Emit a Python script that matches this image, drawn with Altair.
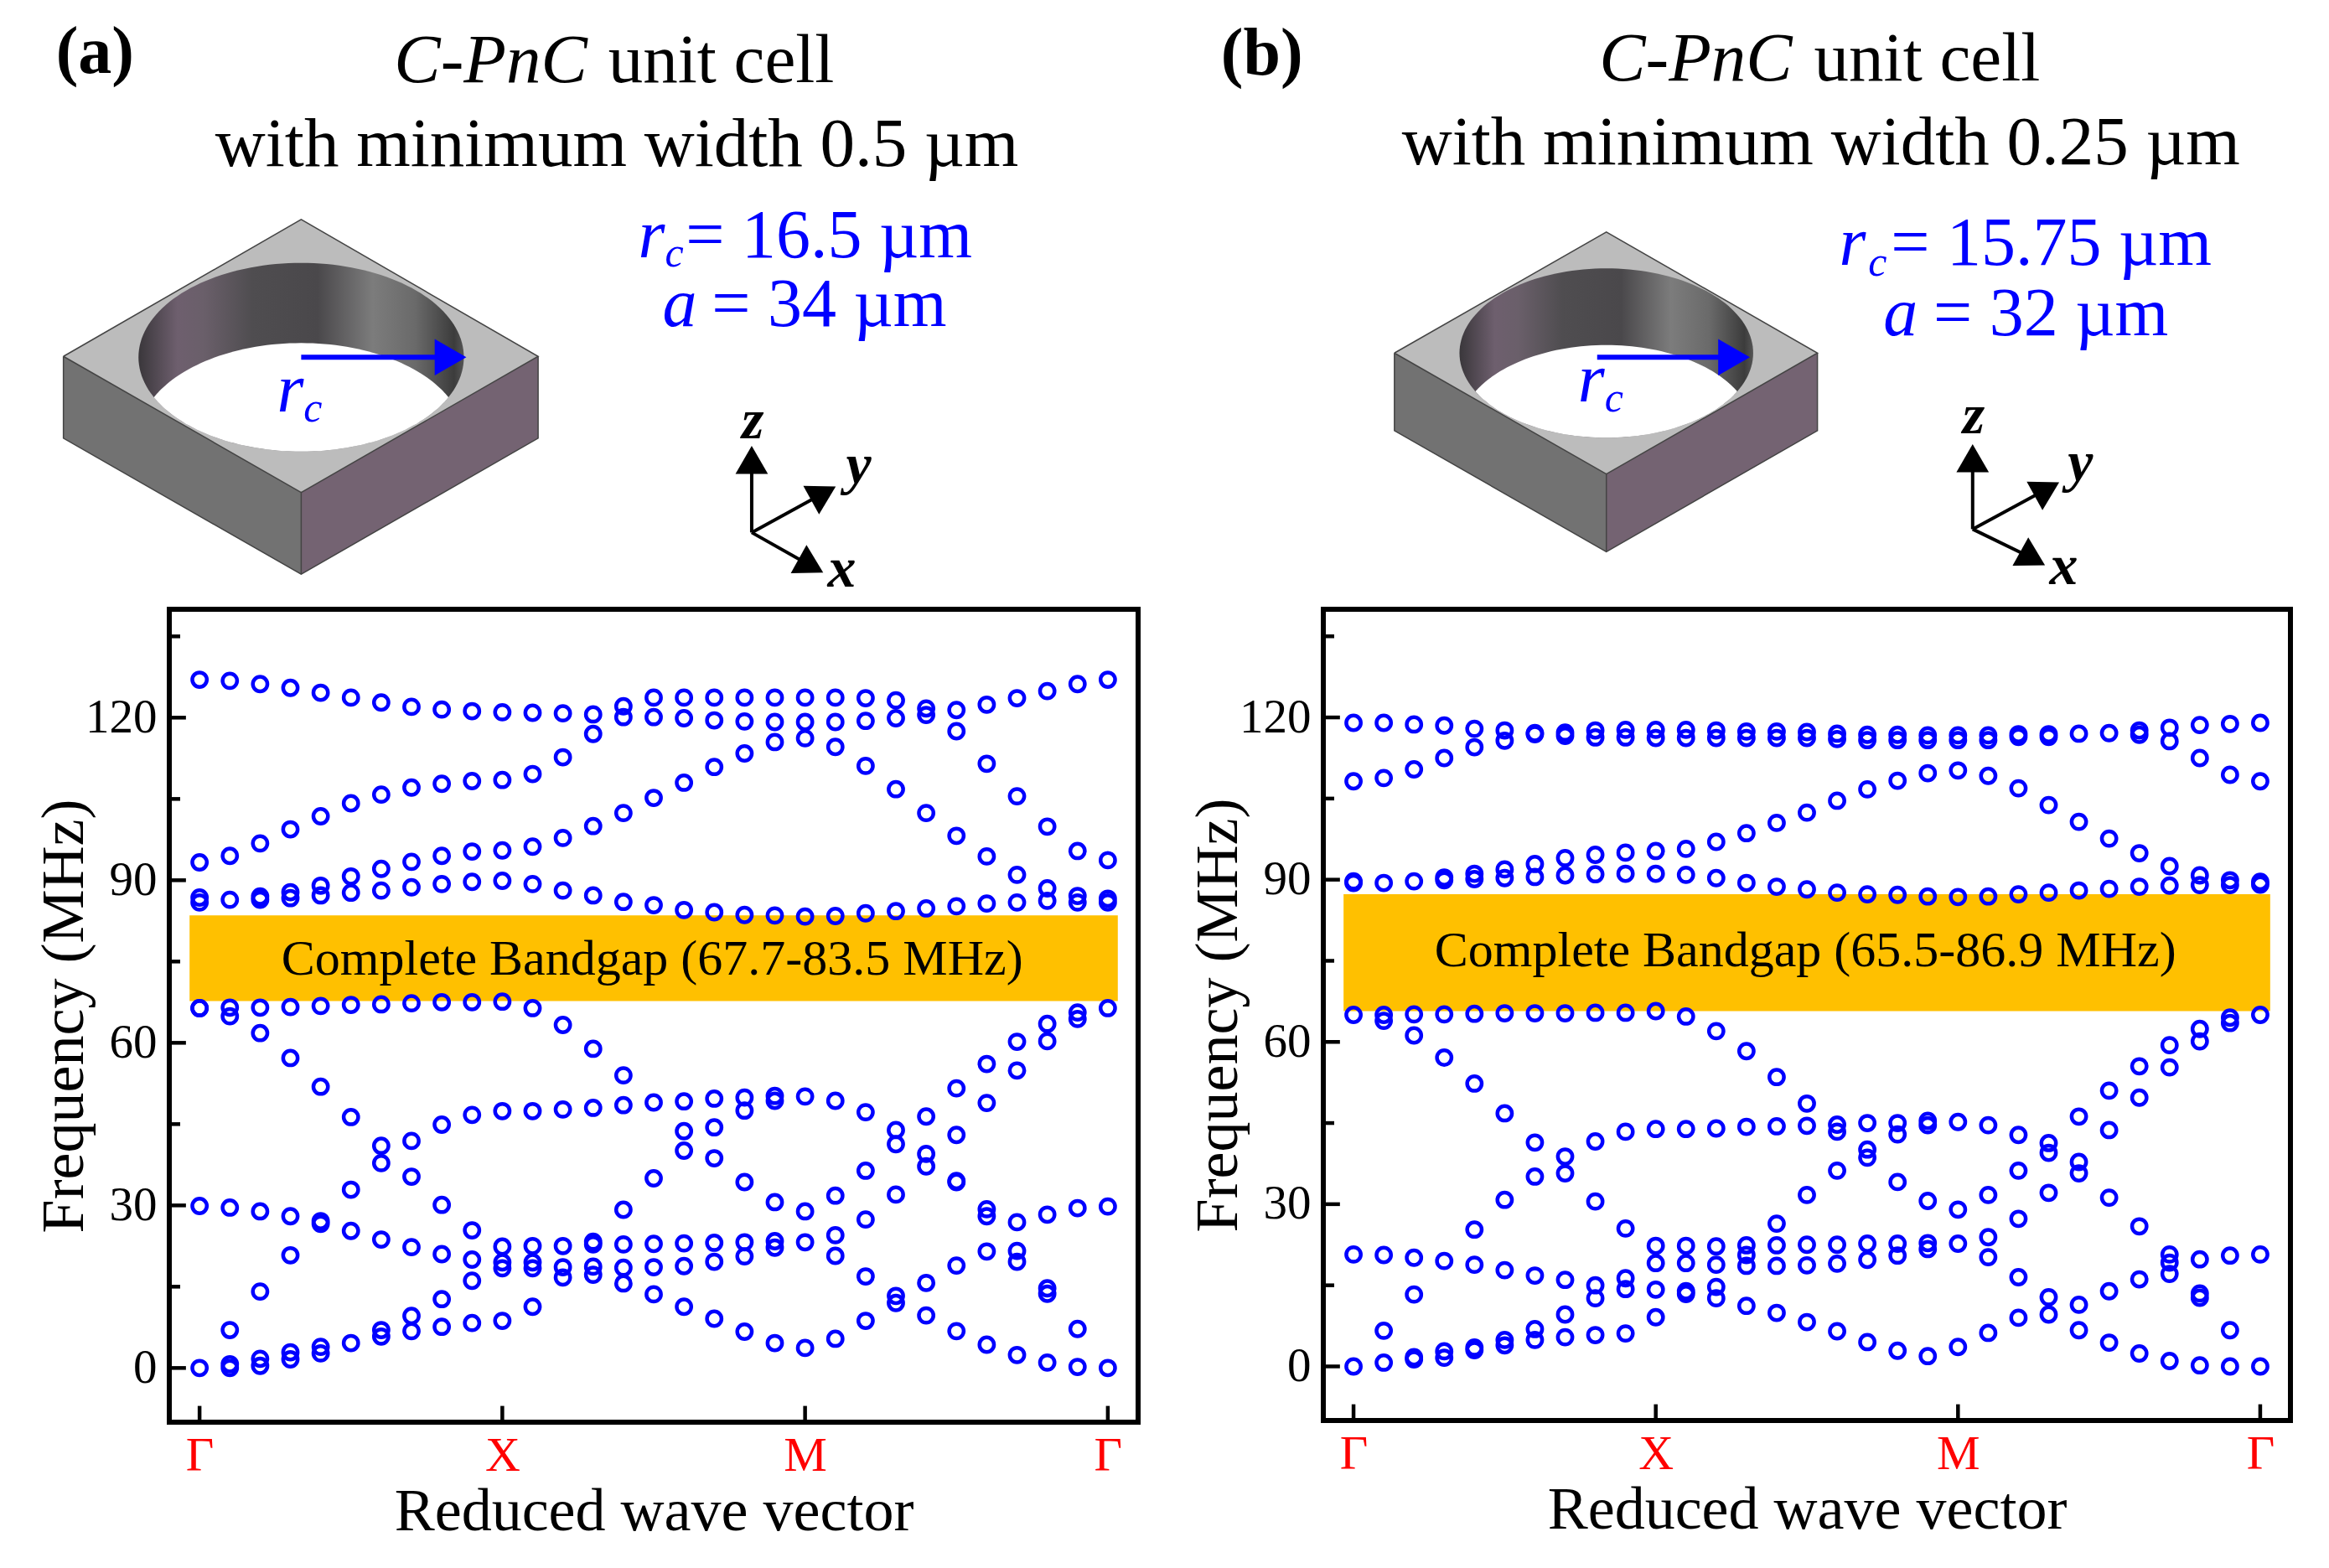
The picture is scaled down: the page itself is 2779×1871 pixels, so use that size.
import numpy as np
import pandas as pd
import altair as alt

FONT = "Liberation Serif"
BLUE = "#0000ff"

# Frequencies (MHz) at each of the 31 wave vector samples
a_columns = [
 [0,29.9,66.4,66.4,85.9,86.8,93.3,127.0],
 [0,0.7,7,29.6,64.9,66.5,86.4,94.5,126.8],
 [0.4,1.7,14.1,28.9,61.8,66.5,86.4,87,96.8,126.2],
 [1.6,2.9,20.8,28,57.2,66.6,86.7,87.8,99.4,125.5],
 [2.7,3.9,26.6,27.1,51.9,66.8,87.2,89,101.8,124.6],
 [4.6,25.3,32.9,46.3,67,87.7,90.7,104.2,123.7],
 [5.8,7,23.7,37.8,41,67.1,88.1,92.1,105.8,122.8],
 [6.8,9.6,22.3,35.3,41.9,67.3,88.7,93.4,107.1,122],
 [7.6,12.7,21,30.1,44.9,67.5,89.3,94.5,107.8,121.5],
 [8.3,16.1,20,25.4,46.7,67.5,89.7,95.3,108.3,121.2],
 [8.7,18.4,19.5,22.4,47.4,67.6,89.9,95.5,108.5,121],
 [11.3,18.4,19.5,22.5,47.4,66.4,89.3,96.2,109.6,120.9],
 [16.7,18.6,22.5,47.7,63.3,88.1,97.8,112.7,120.8],
 [17.2,18.7,22.8,23.3,48,58.9,87.2,100,117,120.6],
 [15.6,18.5,22.8,29.2,48.5,54,86,102.4,120.1,122.1],
 [13.6,18.6,22.9,35,49,85.4,105.2,120.1,123.7],
 [11.3,18.8,23,40.1,43.7,49.2,84.5,108,119.9,123.7],
 [9.1,19.6,23.1,38.7,44.4,49.7,84.1,110.9,119.5,123.7],
 [6.7,20.6,23.2,34.3,47.5,49.9,83.6,113.4,119.3,123.7],
 [4.6,22.2,23.4,30.6,49.3,50.2,83.5,115.5,119.2,123.7],
 [3.7,23.2,28.9,50.1,83.3,116.2,119.2,123.7],
 [5.4,20.7,24.5,31.8,49.3,83.4,114.6,119.2,123.7],
 [8.7,16.9,27.4,36.4,47.2,83.9,111.1,119.4,123.6],
 [12,13.3,32,41.3,43.9,84.3,106.8,119.9,123.2],
 [9.7,15.7,37.2,39.5,46.4,84.8,102.4,120.5,121.7],
 [6.8,18.9,34.3,34.5,43,51.6,85.2,98.2,117.5,121.4],
 [4.3,21.5,28,29.3,48.9,56.1,85.7,94.4,111.5,122.4],
 [2.4,19.6,21.6,26.9,54.9,60.2,85.9,91,105.5,123.6],
 [1,13.7,14.7,28.3,60.3,63.5,86.2,88.5,99.9,124.9],
 [0.2,7.2,29.5,64.4,65.6,85.9,87.1,95.4,126.2],
 [0,29.8,66.4,85.9,86.6,93.7,127],
]
b_columns = [
 [0,20.7,65,89.4,89.7,108.2,119],
 [0.7,6.6,20.6,63.9,65,89.4,108.8,119],
 [1.3,1.7,13.3,20.1,61.2,65.1,89.7,110.4,118.7],
 [1.6,2.8,19.5,57.1,65.1,89.9,90.4,112.5,118.5],
 [3,3.5,18.8,25.3,52.3,65.2,90.1,91.1,114.5,117.9],
 [3.9,4.9,17.8,30.8,46.8,65.3,90.3,91.9,115.7,117.6],
 [4.9,6.9,16.8,35.1,41.4,65.3,90.5,92.9,116.9,117.1],
 [5.4,9.6,16,35.7,38.8,65.3,90.8,94,116.6,117.2],
 [5.8,12.6,15,30.5,41.6,65.4,91,94.6,116.3,117.6],
 [6.1,14.3,16.3,25.5,43.4,65.4,91.1,95,116.3,117.7],
 [9.1,14.2,19.1,22.3,43.9,65.7,91.1,95.3,116.2,117.7],
 [13.4,13.9,19.1,22.3,43.9,64.7,90.9,95.7,116.2,117.7],
 [12.6,14.7,18.8,22.2,44,62,90.3,97,116.2,117.6],
 [11.2,18.6,20.6,22.4,44.3,58.3,89.4,98.6,116.2,117.4],
 [9.9,18.6,22.4,26.4,44.4,53.5,88.7,100.5,116.2,117.4],
 [8.2,18.7,22.5,31.7,44.5,48.6,88.2,102.4,116.2,117.3],
 [6.5,19,22.5,36.2,43.4,44.7,87.6,104.6,116,117],
 [4.5,19.7,22.7,38.6,40.1,45,87.3,106.7,115.8,116.8],
 [2.9,20.5,22.7,34.1,42.9,45,87.2,108.3,115.8,116.8],
 [1.9,21.7,22.8,30.6,44.6,45.4,86.9,109.7,115.8,116.7],
 [3.6,22.7,29,45.2,86.8,110.2,115.8,116.7],
 [6.2,20.2,23.9,31.7,44.6,86.9,109.2,115.8,116.7],
 [9,16.5,27.3,36.2,42.8,87.3,106.9,116.4,116.9],
 [9.6,12.8,32.1,39.5,41.3,87.6,103.8,116.4,116.9],
 [6.7,11.4,35.7,37.8,46.2,88,100.7,117],
 [4.4,13.9,31.2,43.7,51,88.3,97.6,117.1],
 [2.4,16.1,25.9,49.7,55.5,88.7,94.9,116.8,117.6],
 [1,17.1,19.2,20.7,55.3,59.4,88.9,92.5,115.6,118.1],
 [0.2,12.7,13.5,19.8,60.1,62.4,89,90.8,112.5,118.6],
 [0,6.7,20.5,63.5,64.5,89,89.9,109.4,118.8],
 [0,20.7,65,89.1,89.6,108.2,119],
]

y_major = [0, 30, 60, 90, 120]
y_minor = [15, 45, 75, 105, 135]
x_ticks = [0, 10, 20, 30]

# Schematic coordinates are in the "sketch" units below; sx/sy/ox map them onto the picture
A = dict(
    frame=(202, 1358, 728, 1698), ox=0, sx=0.9955, sy=0.9959,
    gap=(67.7, 83.5), gap_text="Complete Bandgap (67.7-83.5 MHz)", gap_pos=(14.95, 75.3),
    columns=a_columns,
    box=dict(top=(361, 264), left=(76, 428), right=(645, 428), front=(361, 591), depth=98),
    hole=dict(cx=361, cy=429, rx=195, ry=113, d=96),
    arrow=((361, 429), (540, 429)),
    axes=dict(o=(901, 639), z=(901, 552), y=(987, 592), x=(972, 679)),
    title=[("(a)", 67, 88, 80, "bold", "normal", "left"),
           ("C-PnC", 704, 99, 83, "normal", "italic", "right"),
           ("unit cell", 729, 99, 83, "normal", "normal", "left"),
           ("with minimum width 0.5 µm", 258, 200, 83, "normal", "normal", "left")],
    blue=[("r", 765, 309, 82, "italic"), ("c", 797, 320, 50, "italic"), ("= 16.5 µm", 822, 309, 82, "normal"),
          ("a", 794, 392, 82, "italic"), ("= 34 µm", 853, 392, 82, "normal"),
          ("r", 332, 494, 82, "italic"), ("c", 364, 506, 50, "italic")],
    xyz=[("z", 889, 526), ("y", 1014, 580), ("x", 992, 704)],
)
B = dict(
    frame=(1579, 2733, 726, 1694), ox=1400, sx=0.9956, sy=0.9959,
    gap=(65.7, 87.3), gap_text="Complete Bandgap (65.5-86.9 MHz)", gap_pos=(14.95, 76.7),
    columns=b_columns,
    box=dict(top=(1919, 277), left=(1665, 422), right=(2172, 422), front=(1919, 567), depth=93),
    hole=dict(cx=1919, cy=422, rx=176, ry=101.5, d=92),
    arrow=((1908, 427), (2072, 427)),
    axes=dict(o=(2358, 633), z=(2358, 548), y=(2447, 585), x=(2430, 668)),
    title=[("(b)", 1457, 88, 80, "bold", "normal", "left"),
           ("C-PnC", 2142, 95, 83, "normal", "italic", "right"),
           ("unit cell", 2168, 95, 83, "normal", "normal", "left"),
           ("with minimum width 0.25 µm", 1674, 196, 83, "normal", "normal", "left")],
    blue=[("r", 2198, 316, 82, "italic"), ("c", 2233, 329, 50, "italic"), ("= 15.75 µm", 2260, 316, 82, "normal"),
          ("a", 2251, 401, 82, "italic"), ("= 32 µm", 2311, 401, 82, "normal"),
          ("r", 1885, 480, 82, "italic"), ("c", 1917, 492, 50, "italic")],
    xyz=[("z", 2346, 518), ("y", 2472, 575), ("x", 2450, 699)],
)


def panel(p):
    L, R, T, Bm = p["frame"]
    w, h = R - L, Bm - T
    xs = alt.Scale(domain=[-1, 31], nice=False, zero=False)
    ys = alt.Scale(domain=[-10, 140], nice=False, zero=False)
    xenc = alt.X("k:Q", scale=xs, axis=alt.Axis(
        values=x_ticks, grid=False, domain=False, ticks=False, title="Reduced wave vector",
        labelExpr="datum.value == 10 ? 'X' : datum.value == 20 ? 'M' : 'Γ'",
        labelColor="#ff0000", labelFont=FONT, labelFontSize=58, labelPadding=11,
        titleFont=FONT, titleFontSize=72, titleFontWeight="normal", titleColor="black", titlePadding=2))
    yenc = alt.Y("f:Q", scale=ys, axis=alt.Axis(
        values=y_major, grid=False, domain=False, ticks=False, title="Frequency (MHz)",
        labelFont=FONT, labelFontSize=57, labelPadding=15, labelColor="black",
        titleFont=FONT, titleFontSize=72, titleFontWeight="normal", titleColor="black", titlePadding=-12))

    rows = [{"k": i, "f": v} for i, col in enumerate(p["columns"]) for v in col]
    pts = alt.Chart(pd.DataFrame(rows)).mark_point(
        shape="circle", filled=False, color=BLUE, size=300, strokeWidth=4.5, opacity=1
    ).encode(x=xenc, y=yenc)

    band = alt.Chart(pd.DataFrame({"k": [-0.33], "k2": [30.33], "f": [p["gap"][0]], "f2": [p["gap"][1]]})).mark_rect(
        color="#ffc000", opacity=1).encode(x=xenc, x2="k2:Q", y=yenc, y2="f2:Q")
    bt = alt.Chart(pd.DataFrame({"k": [p["gap_pos"][0]], "f": [p["gap_pos"][1]], "t": [p["gap_text"]]})).mark_text(
        font=FONT, fontSize=60, color="black", baseline="middle", align="center").encode(x=xenc, y=yenc, text="t:N")

    ytick = alt.Chart(pd.DataFrame(
        [{"k": -1, "k2": -0.45, "f": v} for v in y_major] + [{"k": -1, "k2": -0.64, "f": v} for v in y_minor]
    )).mark_rule(color="black", strokeWidth=4.5).encode(x=xenc, x2="k2:Q", y=yenc)
    xtick = alt.Chart(pd.DataFrame({"k": x_ticks, "f": [-10] * 4, "f2": [-7] * 4})).mark_rule(
        color="black", strokeWidth=4.5).encode(x=xenc, y=yenc, y2="f2:Q")

    plot = alt.layer(band, ytick, xtick, pts, bt)

    # Schematic layer: its own scales
    ox, sx, sy = p["ox"], p["sx"], p["sy"]
    px = alt.X("x:Q", axis=None, scale=alt.Scale(domain=[ox + (L - ox) / sx, ox + (R - ox) / sx], nice=False, zero=False))
    py = alt.Y("y:Q", axis=None, scale=alt.Scale(domain=[Bm / sy, T / sy], nice=False, zero=False))

    def area(xv, yv, y2v, **kw):
        return alt.Chart(pd.DataFrame({"x": xv, "y": yv, "y2": y2v})).mark_area(**kw).encode(x=px, y=py, y2="y2:Q")

    def line(pts_, **kw):
        return alt.Chart(pd.DataFrame({"x": [q[0] for q in pts_], "y": [q[1] for q in pts_], "o": list(range(len(pts_)))})
                         ).mark_line(**kw).encode(x=px, y=py, order="o:Q")

    def head(pos, angle, color, size):
        return alt.Chart(pd.DataFrame({"x": [pos[0]], "y": [pos[1]]})).mark_point(
            shape="triangle-up", filled=True, color=color, size=size, angle=angle, opacity=1).encode(x=px, y=py)

    def text(t, x, y, size, weight="normal", style="normal", align="left", color="black"):
        return alt.Chart(pd.DataFrame({"x": [x], "y": [y], "t": [t]})).mark_text(
            font=FONT, fontSize=size, fontWeight=weight, fontStyle=style, align=align,
            baseline="alphabetic", color=color).encode(x=px, y=py, text="t:N")

    b = p["box"]
    d = b["depth"]
    tp, lf, rt, fr = b["top"], b["left"], b["right"], b["front"]
    parts = [
        area([lf[0], fr[0]], [lf[1], fr[1]], [lf[1] + d, fr[1] + d], color="#727272", opacity=1),
        area([fr[0], rt[0]], [fr[1], rt[1]], [fr[1] + d, rt[1] + d], color="#746372", opacity=1),
        area([lf[0], tp[0], rt[0]], [lf[1], tp[1], rt[1]], [lf[1], fr[1], rt[1]], color="#bcbcbc", opacity=1),
    ]
    H = p["hole"]
    t = np.cos(np.linspace(np.pi, 0, 81))
    root = np.sqrt(1 - t ** 2)
    hx = H["cx"] + H["rx"] * t
    stops = [("#3a373b", 0), ("#6e5f6e", 0.12), ("#6a5f6a", 0.2), ("#4f4d50", 0.35), ("#4a484b", 0.55),
             ("#7c7c7c", 0.72), ("#6a6a6a", 0.85), ("#3c3c3c", 0.97), ("#555555", 1)]
    grad = alt.LinearGradient(gradient="linear", x1=0, x2=1, y1=0, y2=0,
                              stops=[alt.GradientStop(color=c, offset=o) for c, o in stops])
    parts.append(area(hx, H["cy"] - H["ry"] * root, H["cy"] + H["ry"] * root, opacity=1, color=grad))
    tmax = np.sqrt(1 - (H["d"] / (2 * H["ry"])) ** 2)
    t2 = tmax * np.cos(np.linspace(np.pi, 0, 81))
    root2 = np.sqrt(1 - t2 ** 2)
    parts.append(area(H["cx"] + H["rx"] * t2, H["cy"] + H["d"] - H["ry"] * root2, H["cy"] + H["ry"] * root2,
                      color="white", opacity=1))
    parts.append(line([lf, tp, rt, fr, lf], color="#444444", strokeWidth=1.5))
    parts.append(line([lf, (lf[0], lf[1] + d), (fr[0], fr[1] + d), (rt[0], rt[1] + d), rt], color="#444444", strokeWidth=1.5))
    parts.append(line([fr, (fr[0], fr[1] + d)], color="#444444", strokeWidth=1.5))

    a0, a1 = p["arrow"]
    parts.append(line([a0, a1], color=BLUE, strokeWidth=6))
    parts.append(head(a1, 90, BLUE, 1900))

    ax = p["axes"]
    for key, ang in (("z", 0), ("y", 61), ("x", 119)):
        parts.append(line([ax["o"], ax[key]], color="black", strokeWidth=4))
        parts.append(head(ax[key], ang, "black", 1500))

    for s, x, y, size, weight, style, align in p["title"]:
        parts.append(text(s, x, y, size, weight, style, align))
    for s, x, y, size, style in p["blue"]:
        parts.append(text(s, x, y, size, "normal", style, "left", BLUE))
    for s, x, y in p["xyz"]:
        parts.append(text(s, x, y, 68, "bold", "italic"))

    schem = alt.layer(*parts)
    return alt.layer(plot, schem).resolve_scale(x="independent", y="independent").properties(width=w, height=h)


chart = alt.hconcat(panel(A), panel(B), spacing=B["frame"][0] - A["frame"][1], bounds="flush").properties(
    padding={"left": 29, "top": 11, "right": 0, "bottom": 0}, background="white"
).configure_view(stroke="black", strokeWidth=6)

chart.save("out.html", embed_options={"renderer": "svg", "actions": False})
